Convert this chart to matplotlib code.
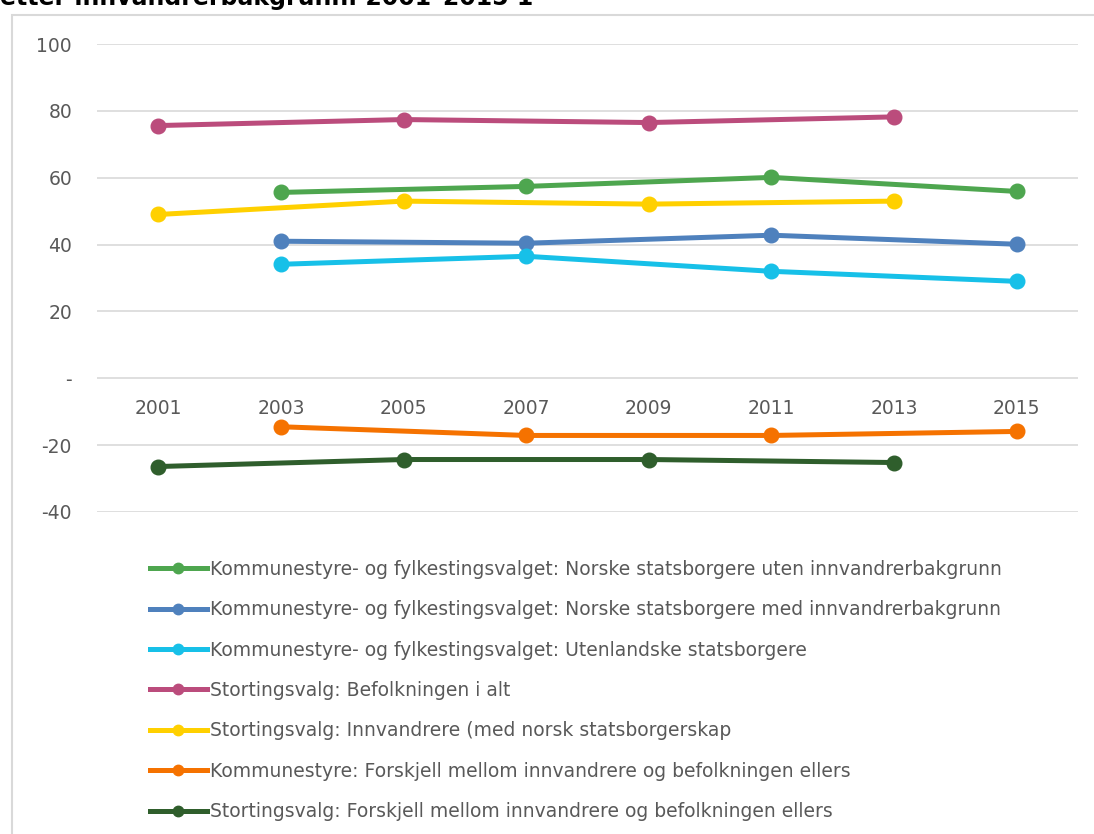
import matplotlib.pyplot as plt
from matplotlib.lines import Line2D
from matplotlib.patches import Rectangle
from matplotlib.ticker import FuncFormatter

years = [2001, 2003, 2005, 2007, 2009, 2011, 2013, 2015]

odd_years = [2001, 2005, 2009, 2013]
even_years = [2003, 2007, 2011, 2015]

labels = [
    'Kommunestyre- og fylkestingsvalget: Norske statsborgere uten innvandrerbakgrunn',
    'Kommunestyre- og fylkestingsvalget: Norske statsborgere med innvandrerbakgrunn',
    'Kommunestyre- og fylkestingsvalget: Utenlandske statsborgere',
    'Stortingsvalg: Befolkningen i alt',
    'Stortingsvalg: Innvandrere (med norsk statsborgerskap',
    'Kommunestyre: Forskjell mellom innvandrere og befolkningen ellers',
    'Stortingsvalg: Forskjell mellom innvandrere og befolkningen ellers',
]
colors = ['#4ea64f', '#4f81bd', '#17c0e8', '#bb4c7c', '#ffd000', '#f57200', '#2f5e2c']

kommune_uten = [55.6, 57.4, 60.1, 55.9]
kommune_med = [41.0, 40.4, 42.8, 40.1]
kommune_utenl = [34.1, 36.5, 32.0, 29.0]
storting_alt = [75.6, 77.4, 76.5, 78.2]
storting_innv = [49.0, 53.0, 52.1, 53.0]
kommune_diff = [-14.5, -17.1, -17.1, -15.9]
storting_diff = [-26.4, -24.3, -24.3, -25.2]

series = [
    (even_years, kommune_uten),
    (even_years, kommune_med),
    (even_years, kommune_utenl),
    (odd_years, storting_alt),
    (odd_years, storting_innv),
    (even_years, kommune_diff),
    (odd_years, storting_diff),
]

plt.rcParams['font.family'] = ['DejaVu Sans']
fig = plt.figure(figsize=(10.94, 8.34), dpi=100)

# chart frame (only top and left edges are visible in the crop)
fig.patches.append(Rectangle((12 / 1094, -0.1), 1.2, (834 - 15) / 834 + 0.1,
                             transform=fig.transFigure, fill=False,
                             edgecolor='#d9d9d9', linewidth=1.5))
# title is cropped at the top edge in the source screenshot
fig.text(0.0, 1 - 5 / 834, 'etter innvandrerbakgrunn. 2001\u20132015 1',
         fontsize=17, fontweight='bold', color='black', va='baseline')

ax = fig.add_axes([97 / 1094, 1 - 512 / 834, (1078 - 97) / 1094, (512 - 44) / 834])

for (xs, ys), c, lab in zip(series, colors, labels):
    ax.plot(xs, ys, color=c, linewidth=3.6, marker='o', markersize=10.5,
            solid_capstyle='round', label=lab, zorder=3)

ax.set_xlim(2000, 2016)
ax.set_ylim(-40, 100)
ax.set_yticks([-40, -20, 0, 20, 40, 60, 80, 100])
ax.yaxis.set_major_formatter(FuncFormatter(lambda v, p: '-' if v == 0 else f'{v:.0f}'))
ax.grid(axis='y', color='#d9d9d9', linewidth=1.2, zorder=0)
ax.set_axisbelow(True)
for s in ax.spines.values():
    s.set_visible(False)
ax.tick_params(axis='y', length=0, pad=18, labelsize=13.5, labelcolor='#595959')
ax.set_xticks(years)
ax.spines['bottom'].set_position(('data', 0))
ax.tick_params(axis='x', length=0, pad=15, labelsize=13.5, labelcolor='#595959')

handles = [Line2D([], [], color=c, linewidth=3.6, marker='o', markersize=7.5)
           for c in colors]
leg = fig.legend(handles, labels, loc='upper left',
                 bbox_to_anchor=(133 / 1094, 1 - 543 / 834),
                 frameon=False, fontsize=13.5, labelcolor='#595959',
                 handlelength=3.05, handletextpad=0.15, labelspacing=1.14)

fig.savefig('out.png', dpi=100)
